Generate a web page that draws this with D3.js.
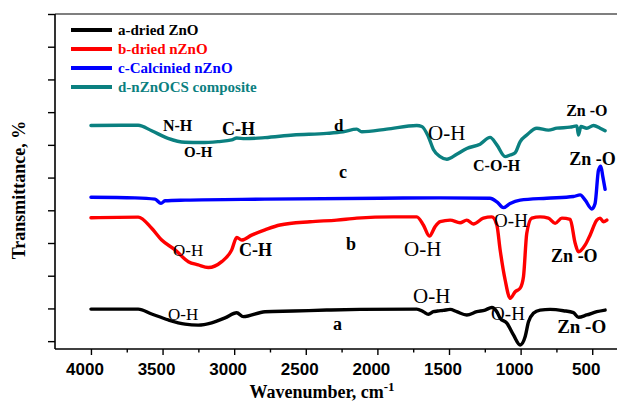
<!DOCTYPE html>
<html>
<head>
<meta charset="utf-8">
<script src="https://cdn.jsdelivr.net/npm/d3@7"></script>
<style>
  html, body { margin: 0; padding: 0; background: #fff; }
  svg { display: block; }
</style>
</head>
<body>
<svg id="chart" width="617" height="411"></svg>
<script>
// FTIR spectra: wavenumber (cm-1) and transmittance (offset traces, arbitrary units)
const seriesNames = ["a-dried ZnO", "b-dried nZnO", "c-Calcinied nZnO", "d-nZnOCS composite"];
const seriesColors = ["#000000", "#ff0000", "#0000ff", "#0b8080"];

const wnA = [4000,3670,3576,3460,3343,3251,3157,3064,2982,2936,2785,2587,2354,2121,1725,1679,1644,1609,1580,1540,1492,1446,1376,1306,1248,1201,1166,1143,1096,1050,1003,968,945,911,864,794,701,631,596,538,468,410];
const tA  = [9.8,9.8,8.3,6.5,5.2,4.9,5.6,7.1,8.7,7.5,9.0,9.2,9.5,9.7,9.8,9.0,8.2,9.0,9.2,9.4,9.7,9.0,8.0,9.0,9.5,10.3,9.0,7.0,5.5,1.9,-1.2,1.4,5.9,8.5,9.5,9.7,9.3,8.7,7.3,8.0,9.0,9.5];

const wnB = [4000,3670,3576,3506,3413,3320,3251,3181,3087,3017,2982,2947,2878,2785,2680,2470,2284,2144,1888,1725,1679,1637,1597,1562,1492,1423,1376,1330,1260,1201,1166,1143,1108,1073,1038,1003,980,957,922,864,806,759,712,654,619,596,549,515,468,445,422,398];
const tB  = [37.7,37.9,34.5,30.9,27.9,24.3,23.3,22.5,24.3,27.9,31.7,30.9,32.4,34.0,35.5,36.5,37.0,37.6,38.0,38.0,35.5,32.1,35.0,36.5,37.0,36.2,37.0,35.8,37.6,38.0,35.5,27.9,18.7,13.1,15.1,16.2,19.7,33.0,37.6,38.0,37.6,36.0,37.6,37.2,29.9,27.3,29.4,32.4,37.0,37.6,36.5,37.0];

const wnC = [4000,3693,3553,3511,3483,3343,2785,1981,1562,1213,1166,1120,1073,1003,817,631,584,549,503,480,456,440,426,410];
const tC  = [44.0,43.8,43.4,42.1,42.9,43.1,43.4,43.7,43.8,43.7,42.6,40.8,42.1,43.1,43.7,44.2,44.7,43.1,40.4,42.1,52.3,53.5,50.3,46.4];

const wnD = [4000,3670,3576,3462,3343,3227,3113,3017,2982,2924,2785,2587,2354,2240,2144,2109,1935,1725,1690,1644,1609,1562,1515,1446,1376,1283,1213,1166,1108,1073,1038,1003,957,887,806,747,654,607,596,579,538,491,445,410];
const tD  = [65.9,66.0,64.3,62.0,60.8,60.7,61.0,61.5,62.1,61.9,62.2,63.0,63.5,64.0,64.8,64.0,64.8,65.9,65.6,62.5,58.6,56.4,55.6,57.1,58.9,60.2,62.3,60.0,56.4,56.9,57.6,61.0,63.0,65.1,64.5,65.1,65.4,65.8,63.0,65.6,65.1,65.9,65.1,64.3];

const wavenumbers = [wnA, wnB, wnC, wnD];
const transmittance = [tA, tB, tC, tD];

// Axis ticks
const xMajorTicks = [4000, 3500, 3000, 2500, 2000, 1500, 1000, 500];
const xMinorTicks = [3750, 3250, 2750, 2250, 1750, 1250, 750];
const yTicks = [0, 10, 20, 30, 40, 50, 60, 70, 80, 90, 100];

// Peak assignments: label, wavenumber, transmittance at the text baseline
const noteText   = ["N-H","O-H","C-H","d","O-H","C-O-H","Zn -O",
                    "c","Zn -O",
                    "O-H","C-H","b","O-H","O-H","Zn -O",
                    "O-H","O-H","O-H","a","Zn -O"];
const noteWn     = [3497,3350,3085,2303,1646,1332,682,
                    2268,661,
                    3427,2966,2219,1814,1185,787,
                    3462,1751,1206,2310,745];
const noteT      = [64.2,56.4,63.0,64.2,61.5,51.9,68.8,
                    49.9,53.8,
                    25.9,25.9,27.9,25.9,35.0,24.3,
                    6.5,11.7,6.5,3.4,2.5];
const noteBold   = [1,1,1,1,0,1,1, 1,1, 0,1,1,0,0,1, 0,0,0,1,1];
const noteSize   = [16,15,18,17,21,16,16, 18,18, 17,18,18,21,19,18, 17,21,19,18,19];

const svg = d3.select("#chart");
const plotLeft = 55, plotRight = 617, plotTop = 14, plotBottom = 349;

const x = d3.scaleLinear().domain([4251, 327]).range([plotLeft, plotRight]);
const y = d3.scaleLinear().domain([-2.4, 100]).range([plotBottom, plotTop]);

const serif = "'Liberation Serif','Times New Roman',serif";
const sans = "'Liberation Sans',Arial,sans-serif";

// top frame line
svg.append("line")
  .attr("x1", plotLeft).attr("x2", plotRight).attr("y1", plotTop).attr("y2", plotTop)
  .attr("stroke", "#555").attr("stroke-width", 1.5);

// left axis (unlabelled ticks)
const yAxis = d3.axisLeft(y).tickValues(yTicks).tickSize(7).tickFormat("");
const gy = svg.append("g").attr("transform", `translate(${plotLeft},0)`).call(yAxis);
gy.select(".domain").attr("d", `M0,${plotTop}V${plotBottom}`).attr("stroke", "#000").attr("stroke-width", 1.6);
gy.selectAll(".tick line").attr("stroke", "#000").attr("stroke-width", 1.4);

// bottom axis: major and minor ticks
const xAxisMajor = d3.axisBottom(x).tickValues(xMajorTicks).tickSize(6).tickFormat("");
const gx = svg.append("g").attr("transform", `translate(0,${plotBottom})`).call(xAxisMajor);
gx.select(".domain").attr("d", `M${plotLeft},0H${plotRight}`).attr("stroke", "#000").attr("stroke-width", 1.6);
gx.selectAll(".tick line").attr("stroke", "#000").attr("stroke-width", 1.4);
const xAxisMinor = d3.axisBottom(x).tickValues(xMinorTicks).tickSize(3.5).tickFormat("");
const gxm = svg.append("g").attr("transform", `translate(0,${plotBottom})`).call(xAxisMinor);
gxm.select(".domain").remove();
gxm.selectAll(".tick line").attr("stroke", "#000").attr("stroke-width", 1.4);

svg.append("g").selectAll("text").data(xMajorTicks).join("text")
  .attr("x", d => x(d) - 6).attr("y", 374.5)
  .attr("text-anchor", "middle")
  .attr("font-family", sans).attr("font-weight", "bold").attr("font-size", 17)
  .text(d => d);

// axis titles
const xt = svg.append("text")
  .attr("x", 322).attr("y", 398)
  .attr("text-anchor", "middle")
  .attr("font-family", serif).attr("font-weight", "bold").attr("font-size", 18);
xt.append("tspan").text("Wavenumber, cm");
xt.append("tspan").attr("dy", -7).attr("font-size", 13).text("-1");

svg.append("text")
  .attr("transform", "translate(25,190) rotate(-90)")
  .attr("text-anchor", "middle")
  .attr("font-family", serif).attr("font-weight", "bold").attr("font-size", 18)
  .text("Transmittance, %");

// spectra
const line = d3.line()
  .x(d => x(d[0])).y(d => y(d[1]))
  .curve(d3.curveMonotoneX);

seriesNames.forEach((name, i) => {
  const pts = wavenumbers[i].map((w, k) => [w, transmittance[i][k]]);
  svg.append("path")
    .datum(pts)
    .attr("d", line)
    .attr("fill", "none")
    .attr("stroke", seriesColors[i])
    .attr("stroke-width", 3.4)
    .attr("stroke-linejoin", "round")
    .attr("stroke-linecap", "round");
});

// legend
const legend = svg.append("g");
seriesNames.forEach((name, i) => {
  const ly = 30 + i * 19;
  legend.append("line")
    .attr("x1", 71).attr("x2", 112).attr("y1", ly).attr("y2", ly)
    .attr("stroke", seriesColors[i]).attr("stroke-width", 4);
  legend.append("text")
    .attr("x", 118).attr("y", ly + 5)
    .attr("font-family", serif).attr("font-weight", "bold").attr("font-size", 15)
    .attr("fill", seriesColors[i])
    .text(name);
});

// peak labels
svg.append("g").selectAll("text").data(noteText).join("text")
  .attr("x", (d, i) => x(noteWn[i]))
  .attr("y", (d, i) => y(noteT[i]))
  .attr("font-family", serif)
  .attr("font-weight", (d, i) => noteBold[i] ? "bold" : "normal")
  .attr("font-size", (d, i) => noteSize[i])
  .attr("fill", "#000")
  .text(d => d);
</script>
</body>
</html>
